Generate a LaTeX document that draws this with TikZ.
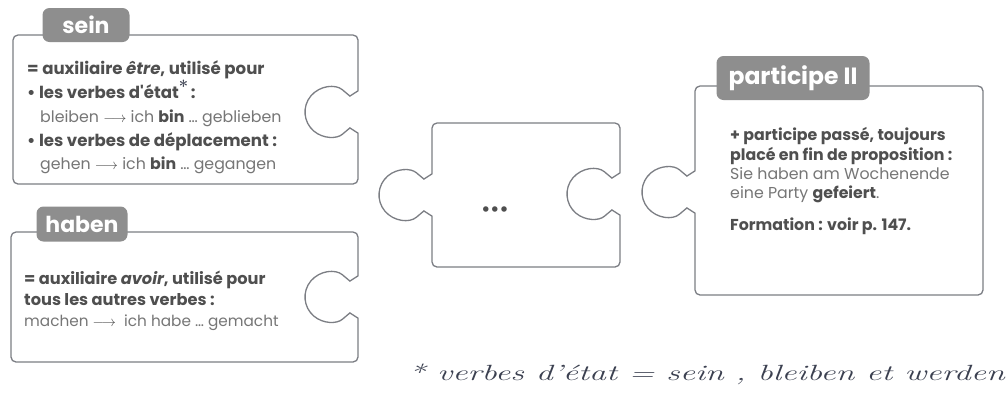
\documentclass[tikz,border=0pt]{standalone}
\usepackage{fontspec}
\newfontfamily\pop{Poppins}
\definecolor{edgec}{HTML}{7C7E84}
\definecolor{tabc}{HTML}{8E8E8E}
\definecolor{boldc}{HTML}{4F4F4F}
\definecolor{regc}{HTML}{767676}
\definecolor{inkc}{HTML}{3B4050}
\newcommand\bb[1]{{\bfseries\color{boldc}#1}}
\newcommand\arr{{\color{boldc}$\longrightarrow$}}
\newcommand\hstar{{\color{inkc}\raisebox{6pt}{\normalfont\bfseries *}}}
\begin{document}
\begin{tikzpicture}[x=1pt,y=-1pt,
  piece/.style={draw=edgec,line width=1.3pt,fill=white,rounded corners=5pt},
  tabbox/.style={fill=tabc,rounded corners=7pt,inner sep=0pt,text=white,
    font=\pop\bfseries\fontsize{22}{22}\selectfont},
  bl/.style={anchor=base west,inner sep=0pt,text=boldc,font=\pop\bfseries\fontsize{15.8}{18}\selectfont},
  rl/.style={anchor=base west,inner sep=0pt,text=regc,font=\pop\fontsize{15.8}{18}\selectfont},
  holeR/.style 2 args={insert path={ -- (#1,#2-26.15)
     .. controls (#1,#2-21.15) and (#1-8.1,#2-15.94) .. (#1-11.93,#2-19.15)
     arc[start angle=-50,end angle=-310,radius=25]
     .. controls (#1-8.1,#2+15.94) and (#1,#2+21.15) .. (#1,#2+26.15)}},
  knobL/.style 2 args={insert path={ -- (#1,#2+26.15)
     .. controls (#1,#2+21.15) and (#1-8.1,#2+15.94) .. (#1-11.93,#2+19.15)
     arc[start angle=50,end angle=310,radius=25]
     .. controls (#1-8.1,#2-15.94) and (#1,#2-21.15) .. (#1,#2-26.15)}}
]
\fill[white] (0,0) rectangle (1008,392);
\useasboundingbox (0,0) rectangle (1008,392);

% pieces
\draw[piece] (150,184) -- (13,184) -- (13,35) -- (358,35) [holeR={358}{112}] -- (358,184) -- cycle;
\draw[piece] (150,362) -- (11,362) -- (11,232) -- (358,232) [holeR={358}{297}] -- (358,362) -- cycle;
\draw[piece] (520,267) -- (432,267) [knobL={432}{195}] -- (432,123) -- (620,123) [holeR={620}{194}] -- (620,267) -- cycle;
\draw[piece] (820,295) -- (695,295) [knobL={695}{192}] -- (695,86) -- (983,86) -- (983,295) -- cycle;

% tabs
\node[tabbox,minimum width=87,minimum height=34] (tsein) at (86,25) {sein};
\node[tabbox,minimum width=91,minimum height=35] (thaben) at (82,224) {haben};
\node[tabbox,minimum width=153,minimum height=44,font=\pop\bfseries\fontsize{23.5}{23.5}\selectfont] (tpart) at (793,78) {participe II};

% piece 1 text
\node[bl,font=\pop\bfseries\fontsize{16.6}{18}\selectfont] (s1) at (27,74) {= auxiliaire \textit{être}, utilisé pour};
\node[bl,font=\pop\bfseries\fontsize{16.6}{18}\selectfont] (s2) at (27,98) {•~les verbes d'état\hstar\,:};
\node[rl] (s3) at (40,122) {bleiben \arr\ ich \bb{bin} … geblieben};
\node[bl,font=\pop\bfseries\fontsize{16.6}{18}\selectfont] (s4) at (27,146) {•~les verbes de déplacement :};
\node[rl] (s5) at (40,169) {gehen \arr\ ich \bb{bin} … gegangen};

% piece 2 text
\node[bl,font=\pop\bfseries\fontsize{16.2}{18}\selectfont] (h1) at (24,284) {= auxiliaire \textit{avoir}, utilisé pour};
\node[bl,font=\pop\bfseries\fontsize{16.2}{18}\selectfont] (h2) at (24,305) {tous les autres verbes :};
\node[rl,font=\pop\fontsize{15.3}{18}\selectfont] (h3) at (24,326) {machen \arr\ \ ich habe … gemacht};

% middle piece
\node[text=boldc,inner sep=0pt,font=\pop\bfseries\fontsize{18}{18}\selectfont] (dots) at (495,211) {•••};

% piece 4 text
\node[bl] (p1) at (730,140) {+ participe passé, toujours};
\node[bl] (p2) at (730,160) {placé en fin de proposition :};
\node[rl] (p3) at (730,179) {Sie haben am Wochenende};
\node[rl] (p4) at (730,198) {eine Party \bb{gefeiert}.};
\node[bl] (p5) at (730,230) {Formation : voir p. 147.};

% handwritten note
\node[anchor=base west,inner sep=0pt,text=inkc,font=\itshape\fontsize{22}{22}\selectfont,xscale=1.54] (note) at (408,380) {* verbes d'état = sein , bleiben et werden};
\end{tikzpicture}
\end{document}
